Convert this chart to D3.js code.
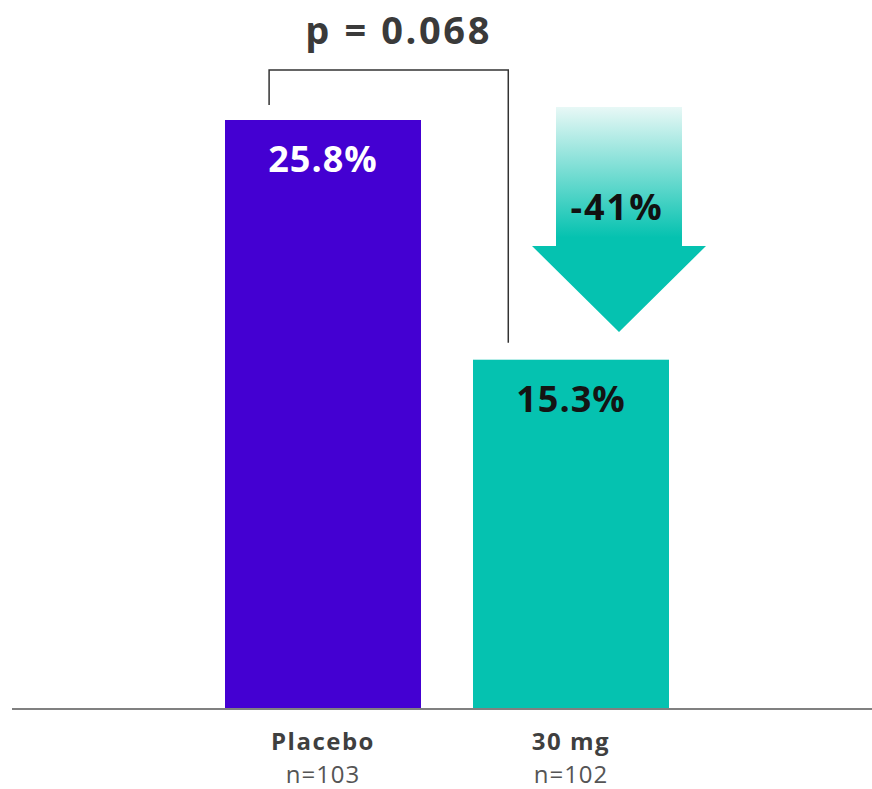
<!DOCTYPE html>
<html><head><meta charset="utf-8">
<script src="https://cdn.jsdelivr.net/npm/d3@7"></script>
<style>html,body{margin:0;padding:0;background:#fff;}svg{display:block;}</style>
</head><body>
<svg id="chart" width="872" height="789"></svg>
<script>
const categories = ["Placebo", "30 mg"];
const nLabels = ["n=103", "n=102"];
const values = [25.8, 15.3];
const valueLabels = ["25.8%", "15.3%"];
const pLabel = "p = 0.068";
const changeLabel = "-41%";

const colors = ["#4400D2", "#05C2B0"];
const labelColors = ["#ffffff", "#141414"];
const FONT = "'Open Sans', Lato, sans-serif";

const svg = d3.select("#chart");
const baseY = 709;
const y = d3.scaleLinear().domain([0, 30]).range([baseY, baseY - 30 * (589 / 25.8)]);
const x = d3.scaleBand().domain(categories).range([225, 669]).paddingInner(52 / 248).paddingOuter(0);

// gradient for arrow
const defs = svg.append("defs");
const grad = defs.append("linearGradient").attr("id", "ag").attr("x1", 0).attr("y1", 0).attr("x2", 0).attr("y2", 1);
grad.append("stop").attr("offset", "0%").attr("stop-color", "#e8f8f6");
grad.append("stop").attr("offset", "58%").attr("stop-color", "#05C2B0");
grad.append("stop").attr("offset", "100%").attr("stop-color", "#05C2B0");

// bars
svg.selectAll("rect.bar").data(values).join("rect")
  .attr("class", "bar")
  .attr("x", (d, i) => x(categories[i]))
  .attr("width", x.bandwidth())
  .attr("y", d => y(d))
  .attr("height", d => baseY - y(d))
  .attr("fill", (d, i) => colors[i]);

// baseline
svg.append("line").attr("x1", 12).attr("x2", 872).attr("y1", baseY).attr("y2", baseY)
  .attr("stroke", "#808080").attr("stroke-width", 2);

// value labels
svg.selectAll("text.val").data(values).join("text")
  .attr("class", "val")
  .attr("x", (d, i) => x(categories[i]) + x.bandwidth() / 2)
  .attr("y", d => y(d) + 52)
  .attr("text-anchor", "middle")
  .attr("font-family", FONT).attr("font-weight", 700).attr("font-size", 36)
  .attr("letter-spacing", 1)
  .attr("fill", (d, i) => labelColors[i])
  .text((d, i) => valueLabels[i]);

// category labels
svg.selectAll("text.cat").data(categories).join("text")
  .attr("class", "cat")
  .attr("x", d => x(d) + x.bandwidth() / 2)
  .attr("y", 750)
  .attr("text-anchor", "middle")
  .attr("font-family", FONT).attr("font-weight", 700).attr("font-size", 24)
  .attr("letter-spacing", 1.5)
  .attr("fill", "#3f3f3f")
  .text(d => d);
svg.selectAll("text.n").data(nLabels).join("text")
  .attr("class", "n")
  .attr("x", (d, i) => x(categories[i]) + x.bandwidth() / 2)
  .attr("y", 783)
  .attr("text-anchor", "middle")
  .attr("font-family", FONT).attr("font-weight", 400).attr("font-size", 24)
  .attr("letter-spacing", 1)
  .attr("fill", "#555555")
  .text(d => d);

// bracket
const bx1 = x(categories[0]) + x.bandwidth() * 0.225;
const bx2 = x(categories[1]) + x.bandwidth() * 0.18;
const bTop = 70;
svg.append("path")
  .attr("d", `M${bx1},${y(values[0]) - 15} V${bTop} H${bx2} V${y(values[1]) - 17}`)
  .attr("fill", "none").attr("stroke", "#333").attr("stroke-width", 1.5);
svg.append("text")
  .attr("x", (bx1 + bx2) / 2 + 10).attr("y", 44)
  .attr("text-anchor", "middle")
  .attr("font-family", FONT).attr("font-weight", 700).attr("font-size", 38)
  .attr("letter-spacing", 2.6)
  .attr("fill", "#3a3a3a")
  .text(pLabel);

// arrow
const acx = x(categories[1]) + x.bandwidth() / 2 + 48;
const shaftW = 126, headW = 174, aTop = 107, shaftBot = 246, tip = 332;
svg.append("path")
  .attr("d", `M${acx - shaftW/2},${aTop} H${acx + shaftW/2} V${shaftBot} H${acx + headW/2} L${acx},${tip} L${acx - headW/2},${shaftBot} H${acx - shaftW/2} Z`)
  .attr("fill", "url(#ag)");
svg.append("text")
  .attr("x", acx - 2).attr("y", 220)
  .attr("text-anchor", "middle")
  .attr("font-family", FONT).attr("font-weight", 700).attr("font-size", 36)
  .attr("letter-spacing", 2)
  .attr("fill", "#111")
  .text(changeLabel);
</script>
</body></html>
